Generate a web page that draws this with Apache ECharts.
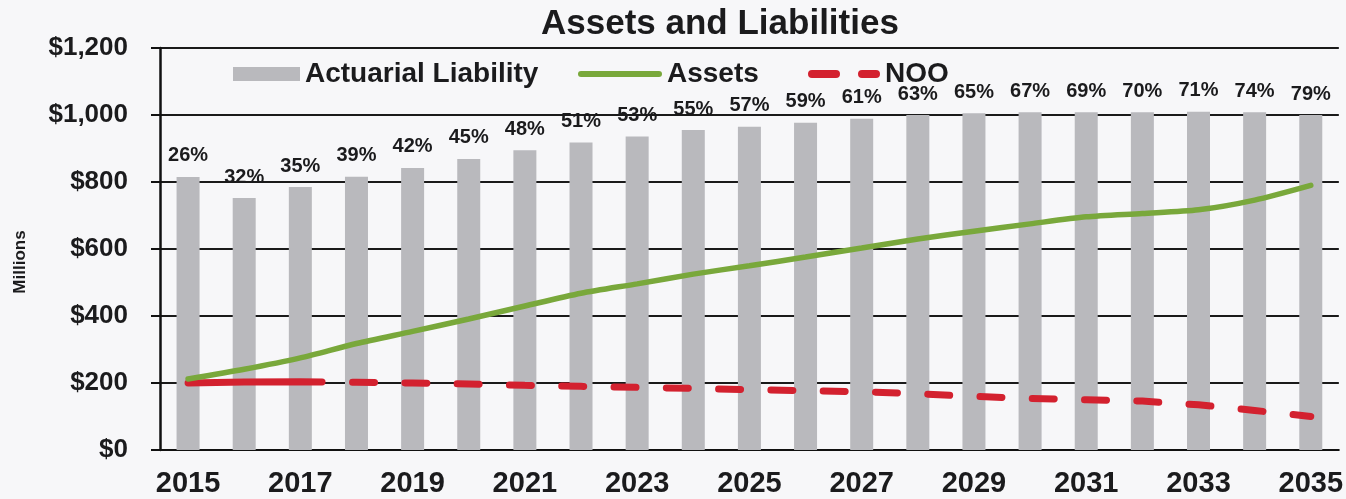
<!DOCTYPE html>
<html>
<head>
<meta charset="utf-8">
<script src="https://cdn.jsdelivr.net/npm/echarts@6/dist/echarts.min.js"></script>
<style>
  html, body { margin: 0; padding: 0; background: #f7f7f9; }
  #chart { width: 1346px; height: 499px; }
</style>
</head>
<body>
<div id="chart"></div>
<script>
// Plan years
const years = ['2015','2016','2017','2018','2019','2020','2021','2022','2023','2024','2025',
               '2026','2027','2028','2029','2030','2031','2032','2033','2034','2035'];

// Actuarial liability ($ millions)
const liability = [815, 752, 785, 816, 842, 869, 895, 918, 936, 955, 965,
                   977, 989, 1000, 1005, 1008, 1008, 1008, 1010, 1008, 1000];

// Market value of assets ($ millions)
const assets = [212, 241, 275, 318, 354, 391, 430, 468, 496, 525, 550,
                576, 603, 630, 653, 675, 696, 706, 717, 746, 790];

// NOO ($ millions)
const noo = [200, 203, 204, 202, 200, 197, 193, 190, 187, 184, 180,
             177, 174, 168, 160, 154, 150, 146, 135, 118, 100];

// Funded ratio labels printed above each bar
const fundedLabels = ['26%','32%','35%','39%','42%','45%','48%','51%','53%','55%','57%',
                      '59%','61%','63%','65%','67%','69%','70%','71%','74%','79%'];

const yTicks = { min: 0, max: 1200, interval: 200 };

const FONT = '"Liberation Sans", Arial, sans-serif';
const INK = '#1b1b1d';
const GRAY = '#b9b9bd';
const GREEN = '#79a83b';
const RED = '#d3212f';

// NOO dash pattern: a long solid opening stretch, then regular short dashes
const nooDash = [134, 30.5];
for (let i = 0; i < 40; i++) { nooDash.push(22, 30.3); }

// Legend swatches: a thick green stroke, and two rounded red dashes
const greenSwatch = 'path://M3,0 H81 A3,3 0 0 1 81,6 H3 A3,3 0 0 1 3,0 Z';
const redSwatch = 'path://M4,0 H28 A4,4 0 0 1 28,8 H4 A4,4 0 0 1 4,0 Z ' +
                  'M54,0 H68 A4,4 0 0 1 68,8 H54 A4,4 0 0 1 54,0 Z';

const legendText = { fontFamily: FONT, fontSize: 28, fontWeight: 'bold', color: INK };

const chart = echarts.init(document.getElementById('chart'), null, { renderer: 'canvas' });

chart.setOption({
  backgroundColor: '#f7f7f9',
  animation: false,
  textStyle: { fontFamily: FONT, color: INK },
  title: {
    text: 'Assets and Liabilities',
    left: 536,
    top: 2,
    textStyle: { fontFamily: FONT, fontSize: 35, fontWeight: 'bold', color: INK }
  },
  legend: [
    {
      left: 228, top: 55, itemWidth: 67, itemHeight: 14,
      textStyle: legendText,
      data: [{ name: 'Actuarial Liability', icon: 'rect' }]
    },
    {
      left: 573, top: 55, itemWidth: 84, itemHeight: 6,
      textStyle: legendText,
      data: [{ name: 'Assets', icon: greenSwatch }]
    },
    {
      left: 803, top: 55, itemWidth: 72, itemHeight: 8,
      textStyle: legendText,
      data: [{ name: 'NOO', icon: redSwatch }]
    }
  ],
  graphic: [
    {
      type: 'text',
      x: 20, y: 262,
      rotation: Math.PI / 2,
      style: {
        text: 'Millions',
        fontFamily: FONT, fontSize: 17, fontWeight: 'bold', fill: INK,
        align: 'center', verticalAlign: 'middle'
      }
    }
  ],
  grid: { left: 160, right: 6, top: 48, bottom: 49, containLabel: false },
  xAxis: {
    type: 'category',
    data: years,
    boundaryGap: true,
    axisLine: { lineStyle: { color: '#111', width: 2 } },
    axisTick: { show: false },
    axisLabel: {
      interval: 1,
      margin: 19,
      fontFamily: FONT, fontSize: 29, fontWeight: 'bold', color: INK
    }
  },
  yAxis: {
    type: 'value',
    min: yTicks.min,
    max: yTicks.max,
    interval: yTicks.interval,
    axisLine: { show: true, lineStyle: { color: '#111', width: 2.5 } },
    axisTick: { show: true, length: 9, lineStyle: { color: '#111', width: 2 } },
    splitLine: { show: true, lineStyle: { color: '#1a1a1a', width: 2 } },
    axisLabel: {
      margin: 32,
      fontFamily: FONT, fontSize: 26, fontWeight: 'bold', color: INK,
      formatter: v => '$' + v.toLocaleString('en-US')
    }
  },
  series: [
    {
      name: 'Actuarial Liability',
      type: 'bar',
      data: liability,
      barWidth: 23,
      itemStyle: { color: GRAY },
      label: {
        show: true,
        position: 'top',
        distance: 11,
        fontFamily: FONT, fontSize: 20, fontWeight: 'bold', color: INK,
        formatter: p => fundedLabels[p.dataIndex]
      },
      z: 1
    },
    {
      name: 'NOO',
      type: 'line',
      data: noo,
      symbol: 'none',
      showSymbol: false,
      itemStyle: { color: RED },
      lineStyle: { color: RED, width: 7, type: nooDash, cap: 'round' },
      z: 2
    },
    {
      name: 'Assets',
      type: 'line',
      data: assets,
      symbol: 'none',
      showSymbol: false,
      smooth: 0.25,
      itemStyle: { color: GREEN },
      lineStyle: { color: GREEN, width: 5.5, cap: 'round' },
      z: 3
    }
  ]
});
</script>
</body>
</html>
